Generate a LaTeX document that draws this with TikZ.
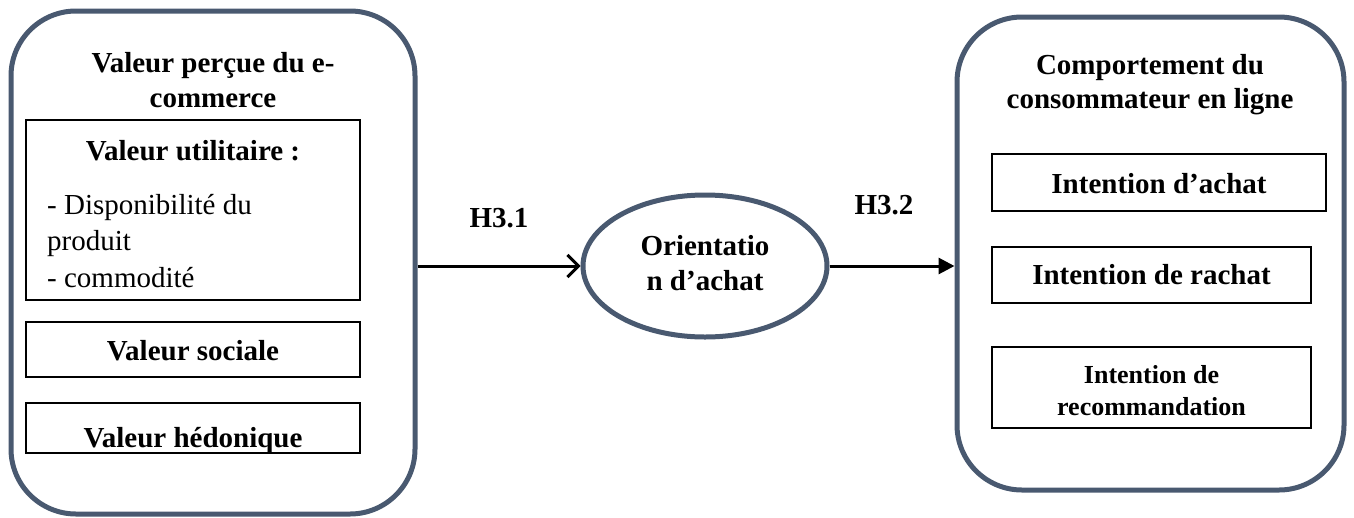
\documentclass[tikz,border=0pt]{standalone}
\usepackage{fontspec}
\setmainfont{Liberation Serif}
\usetikzlibrary{shapes.geometric,arrows.meta}
\definecolor{slate}{RGB}{73,89,112}
\begin{document}
\begin{tikzpicture}[x=1pt,y=-1pt,
  panel/.style={draw=slate,line width=5pt,rounded corners=65pt,inner sep=0pt},
  itembox/.style={draw=black,line width=2pt,inner sep=0pt},
  bold/.style={font=\fontsize{29}{35}\selectfont\bfseries,inner sep=0pt,anchor=base},
  plain/.style={font=\fontsize{29}{35}\selectfont,inner sep=0pt,anchor=base west},
  smallbold/.style={font=\fontsize{26}{31}\selectfont\bfseries,inner sep=0pt,anchor=base},
  link/.style={line width=3pt}]
\useasboundingbox (0,0) rectangle (1354,517);

% outer panels
\node[panel,minimum width=404pt,minimum height=503pt] (left) at (213,262.5) {};
\node[panel,minimum width=387pt,minimum height=473pt] (right) at (1150.5,253.5) {};

% mediator
\node[draw=slate,line width=5pt,ellipse,inner sep=0pt,
      minimum width=244pt,minimum height=142pt] (ell) at (705,266) {};
\node[bold] (e1) at (705,255) {Orientatio};
\node[bold] (e2) at (705,290) {n d’achat};

% left panel content
\node[bold] (lt1) at (213,72) {Valeur perçue du e-};
\node[bold] (lt2) at (213,107) {commerce};

\node[itembox,minimum width=334pt,minimum height=180pt] (util) at (193,210) {};
\node[bold] (utilt) at (193,160) {Valeur utilitaire :};
\node[plain] (u1) at (47,214) {- Disponibilité du};
\node[plain] (u2) at (47,250) {produit};
\node[plain] (u3) at (47,287) {- commodité};

\node[itembox,minimum width=334pt,minimum height=55pt] (soc) at (193,349.5) {};
\node[bold] (soct) at (193,360) {Valeur sociale};

\node[itembox,minimum width=334pt,minimum height=50pt] (hed) at (193,428) {};
\begin{scope}
  % the label's descender is cut off by the box edge
  \clip (hed.north west) rectangle (hed.south east);
  \node[bold] (hedt) at (193,447) {Valeur hédonique};
\end{scope}

% right panel content
\node[bold] (rt1) at (1150,74) {Comportement du};
\node[bold] (rt2) at (1150,108) {consommateur en ligne};

\node[itembox,minimum width=334pt,minimum height=57pt] (achat) at (1159,182.5) {};
\node[bold] (achatt) at (1159,193) {Intention d’achat};

\node[itembox,minimum width=319pt,minimum height=56pt] (rachat) at (1151.5,275) {};
\node[bold] (rachatt) at (1151.5,284) {Intention de rachat};

\node[itembox,minimum width=319pt,minimum height=81pt] (recom) at (1151.5,387.5) {};
\node[smallbold] (recom1) at (1151.5,383) {Intention de};
\node[smallbold] (recom2) at (1151.5,415) {recommandation};

% hypotheses
\node[bold] (h1) at (499,227) {H3.1};
\node[bold] (h2) at (884,214) {H3.2};

% connectors
\draw[link,-{Straight Barb[length=11pt,width=22pt,line width=3pt]}]
  (left.east |- ell.west) -- (ell.west);
\draw[link,-{Triangle[length=16pt,width=16pt]}]
  (ell.east) -- (ell.east -| right.west);
\end{tikzpicture}
\end{document}
